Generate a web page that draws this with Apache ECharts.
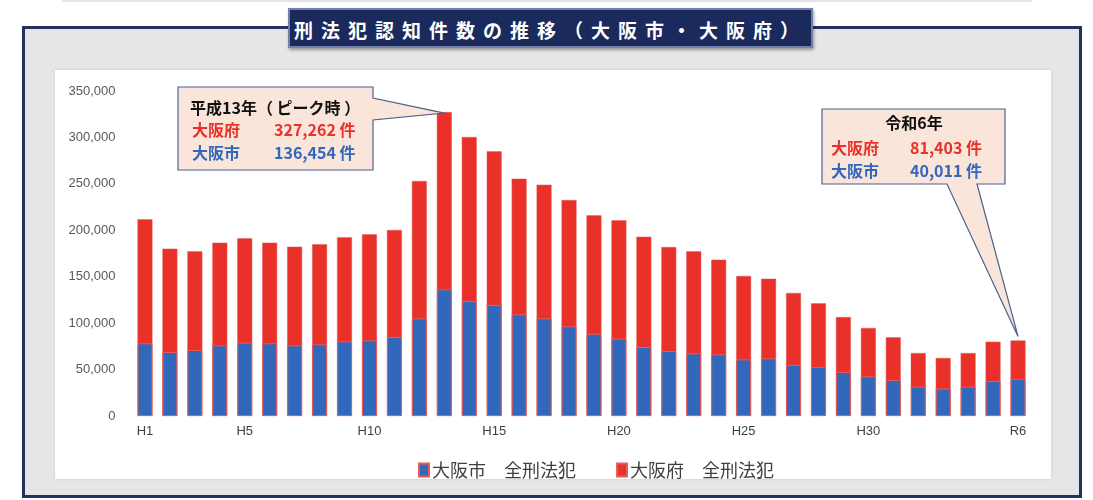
<!DOCTYPE html>
<html>
<head>
<meta charset="utf-8">
<script src="https://cdn.jsdelivr.net/npm/echarts@6/dist/echarts.min.js"></script>
<style>
    body { margin: 0; width: 1093px; height: 500px; background: #fff; overflow: hidden; font-family: "Noto Sans CJK JP", sans-serif; }
    .topline { position: absolute; left: 62px; top: 0; width: 970px; height: 2px; background: #e4e4e4; }
    .frame { position: absolute; left: 22px; top: 26px; width: 1054px; height: 466px; background: #e6e6e9; border: 3px solid #26325e; }
    .panel { position: absolute; left: 55px; top: 70px; width: 996px; height: 409px; background: #fff; box-shadow: 0 0 3px rgba(0,0,0,0.12); }
    .title { position: absolute; left: 288px; top: 8px; width: 525px; height: 40px; background: #1b2a5c; border: 2px solid #7480a8;
             box-shadow: 1px 2px 3px rgba(0,0,0,0.35); color: #fff; font-weight: bold; font-size: 19px; letter-spacing: 8px;
             line-height: 40px; text-align: center; box-sizing: border-box; }
    #chart { position: absolute; left: 0; top: 0; width: 1093px; height: 500px; }
</style>
</head>
<body>
<div class="topline"></div>
<div class="frame"></div>
<div class="panel"></div>
<div class="title">刑法犯認知件数の推移（大阪市・大阪府）</div>
<div id="chart"></div>
<script>
// --- DATA ---
const years = ['H1','H2','H3','H4','H5','H6','H7','H8','H9','H10',
    'H11','H12','H13','H14','H15','H16','H17','H18','H19','H20',
    'H21','H22','H23','H24','H25','H26','H27','H28','H29','H30',
    'H31','R2','R3','R4','R5','R6'];
const shownLabels = ['H1','H5','H10','H15','H20','H25','H30','R6'];
const prefValues = [211800, 180200, 177300, 186700, 191300, 186700, 182400, 184900, 192400, 195600,
    200300, 253100, 327262, 300500, 285000, 255600, 249100, 232600, 216100, 210700,
    193100, 182000, 177300, 168400, 150800, 147900, 132500, 121300, 106600, 94800,
    84700, 67800, 62500, 67800, 80000, 81403];
const cityValues = [78300, 68900, 71100, 76100, 79000, 78300, 76100, 77200, 80400, 81500,
    85100, 105200, 136454, 123800, 119500, 109500, 105200, 96600, 88600, 83300,
    74300, 70000, 67500, 66400, 61000, 62100, 55100, 52800, 47400, 42700,
    38800, 31600, 29400, 31600, 37700, 40011];
const yTicks = { min: 0, max: 350000, interval: 50000 };

const RED = '#e9312a';
const BLUE = '#3168bb';
const FONT = '"Noto Sans CJK JP", sans-serif';

const chart = echarts.init(document.getElementById('chart'));

chart.setOption({
    backgroundColor: 'transparent',
    animation: false,
    grid: { left: 132.5, right: 62.5, top: 91, bottom: 84 },
    legend: {
        top: 456, left: 413, itemGap: 40, itemWidth: 10, itemHeight: 13, icon: 'rect',
        formatter: name => name.replace(' ', '　'),
        textStyle: { fontFamily: FONT, fontSize: 18, color: '#404040', padding: [0, 0, 0, -2] },
        data: ['大阪市 全刑法犯', '大阪府 全刑法犯']
    },
    xAxis: {
        type: 'category', data: years,
        axisLine: { show: false }, axisTick: { show: false },
        axisLabel: {
            interval: (i, v) => shownLabels.includes(v),
            color: '#404040', fontFamily: 'Liberation Sans, sans-serif', fontSize: 13, margin: 9
        }
    },
    yAxis: {
        type: 'value', min: yTicks.min, max: yTicks.max, interval: yTicks.interval,
        splitLine: { show: false }, axisLine: { show: false }, axisTick: { show: false },
        axisLabel: {
            color: '#595959', fontFamily: 'Liberation Sans, sans-serif', fontSize: 13, margin: 17,
            formatter: v => v.toLocaleString('en-US')
        }
    },
    series: [
        {
            name: '大阪府 全刑法犯', type: 'bar', data: prefValues, barWidth: '60%', z: 1,
            itemStyle: { color: RED, borderColor: '#e0605a', borderWidth: 0.5 }
        },
        {
            name: '大阪市 全刑法犯', type: 'bar', data: cityValues, barWidth: '60%', barGap: '-100%', z: 2,
            itemStyle: { color: BLUE, borderColor: '#e85a55', borderWidth: 1 }
        }
    ]
});

// --- CALLOUTS ---
const peakIdx = prefValues.indexOf(Math.max(...prefValues));
const lastIdx = prefValues.length - 1;
const peakTip = chart.convertToPixel({ seriesIndex: 0 }, [peakIdx, prefValues[peakIdx]]);
const lastTip = chart.convertToPixel({ seriesIndex: 0 }, [lastIdx, prefValues[lastIdx]]);
const fmt = v => v.toLocaleString('en-US') + ' 件';

const boxStyle = { fill: '#f9e5da', stroke: '#4f5f8f', lineWidth: 1.2 };
const txt = (x, y, text, color, align) => ({
    type: 'text', x, y, z: 20,
    style: { text, fill: color, font: `bold 16px ${FONT}`, textAlign: align || 'left', textVerticalAlign: 'middle' }
});

chart.setOption({
    graphic: [
        {
            type: 'polygon', z: 10,
            shape: { points: [[178, 87], [373, 87], [373, 98], [peakTip[0], peakTip[1] + 1], [373, 120], [373, 170], [178, 170]] },
            style: boxStyle
        },
        txt(190, 108, '平成13年（ ピーク時 ）', '#111'),
        txt(192, 130, '大阪府', RED),
        txt(274, 130, fmt(prefValues[peakIdx]), RED),
        txt(192, 153, '大阪市', BLUE),
        txt(274, 153, fmt(cityValues[peakIdx]), BLUE),
        {
            type: 'polygon', z: 10,
            shape: { points: [[822, 109], [1005, 109], [1005, 184], [977, 184], [lastTip[0], lastTip[1] - 4], [947, 184], [822, 184]] },
            style: boxStyle
        },
        txt(914, 123, '令和6年', '#111', 'center'),
        txt(831, 148, '大阪府', RED),
        txt(910, 148, fmt(prefValues[lastIdx]), RED),
        txt(831, 171, '大阪市', BLUE),
        txt(910, 171, fmt(cityValues[lastIdx]), BLUE)
    ]
});
</script>
</body>
</html>
